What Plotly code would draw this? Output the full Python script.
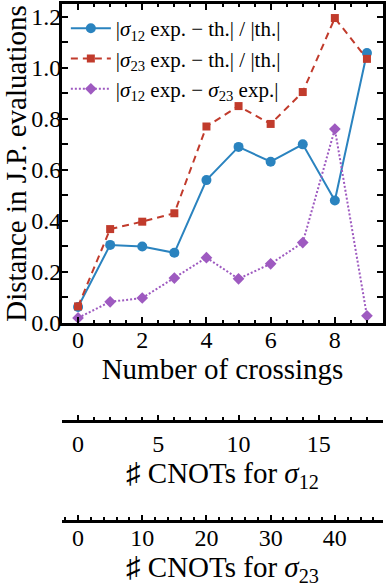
import plotly.graph_objects as go

# data
crossings = [0, 1, 2, 3, 4, 5, 6, 7, 8, 9]
dist_s12 = [0.063, 0.306, 0.300, 0.275, 0.560, 0.690, 0.632, 0.700, 0.480, 1.058]
dist_s23 = [0.065, 0.368, 0.397, 0.430, 0.770, 0.850, 0.780, 0.905, 1.195, 1.035]
dist_s12_s23 = [0.020, 0.083, 0.098, 0.176, 0.256, 0.173, 0.232, 0.315, 0.760, 0.028]

names = [
    "|<i>σ</i><sub>12</sub> exp. − th.| / |th.|",
    "|<i>σ</i><sub>23</sub> exp. − th.| / |th.|",
    "|<i>σ</i><sub>12</sub> exp. − <i>σ</i><sub>23</sub> exp.|",
]

# CNOT counts per crossing for the two extra scales
cnots_per_crossing_12 = 2
cnots_per_crossing_23 = 5
x_range = [-0.5, 9.5]

FONT = "Liberation Serif"
BLUE = "#2A83BF"
RED = "#C13B2C"
PURPLE = "#9E5AC0"

fig = go.Figure()

fig.add_trace(
    go.Scatter(
        x=crossings, y=dist_s12, name=names[0], mode="lines+markers",
        line=dict(color=BLUE, width=2),
        marker=dict(symbol="circle", size=10, color=BLUE),
    )
)
fig.add_trace(
    go.Scatter(
        x=crossings, y=dist_s23, name=names[1], mode="lines+markers",
        line=dict(color=RED, width=2, dash="7px,5px"),
        marker=dict(symbol="square", size=8, color=RED),
    )
)
fig.add_trace(
    go.Scatter(
        x=crossings, y=dist_s12_s23, name=names[2], mode="lines+markers",
        line=dict(color=PURPLE, width=2, dash="2px,2px"),
        marker=dict(symbol="diamond", size=9, color=PURPLE),
    )
)

# empty traces so the extra scales get drawn
fig.add_trace(go.Scatter(x=[], y=[], xaxis="x2", yaxis="y", showlegend=False))
fig.add_trace(go.Scatter(x=[], y=[], xaxis="x3", yaxis="y", showlegend=False))

frame = dict(
    showline=True, linecolor="black", linewidth=3, mirror="allticks",
    ticks="inside", ticklen=6, tickwidth=2, tickcolor="black",
    showgrid=False, zeroline=False,
    tickfont=dict(family=FONT, size=24, color="black"),
)

extra = dict(
    anchor="free", overlaying="x", side="bottom",
    showline=True, linecolor="black", linewidth=3,
    ticks="inside", ticklen=5, tickwidth=2, tickcolor="black",
    showgrid=False, zeroline=False,
    tickfont=dict(family=FONT, size=24, color="black"),
)

fig.update_layout(
    width=387, height=588,
    margin=dict(l=62, r=4, t=4, b=4, autoexpand=False),
    plot_bgcolor="white", paper_bgcolor="white",
    font=dict(family=FONT, size=24, color="black"),
    xaxis=dict(
        range=x_range, dtick=2, tick0=0,
        minor=dict(dtick=0.5, ticks="inside", ticklen=3, tickwidth=1.5, tickcolor="black"),
        title=dict(text="Number of crossings", standoff=5),
        ticklabelstandoff=-7,
        **frame,
    ),
    yaxis=dict(
        domain=[0.45, 1], range=[0, 1.25], dtick=0.2, tick0=0, tickformat=".1f",
        minor=dict(dtick=0.1, ticks="inside", ticklen=3, tickwidth=1.5, tickcolor="black"),
        title=dict(text="Distance in J.P. evaluations", standoff=4),
        ticklabelstandoff=-7,
        **frame,
    ),
    xaxis2=dict(
        position=0.281,
        range=[v * cnots_per_crossing_12 for v in x_range], dtick=5, tick0=0,
        minor=dict(dtick=1, ticks="inside", ticklen=3, tickwidth=1.5, tickcolor="black"),
        title=dict(text="♯ CNOTs for <i>σ</i><sub>12</sub>", standoff=0),
        **extra,
    ),
    xaxis3=dict(
        position=0.1086,
        range=[v * cnots_per_crossing_23 for v in x_range], dtick=10, tick0=0,
        minor=dict(dtick=2, ticks="inside", ticklen=3, tickwidth=1.5, tickcolor="black"),
        title=dict(text="♯ CNOTs for <i>σ</i><sub>23</sub>", standoff=2),
        ticklabelstandoff=-6,
        **extra,
    ),
    legend=dict(
        y=0.993, x=0.012, xanchor="left", yanchor="top",
        bgcolor="rgba(0,0,0,0)", font=dict(family=FONT, size=21),
        tracegroupgap=0, itemwidth=40,
    ),
)

# drop the page's default body margin so the figure sits at the window corner
fig.write_html(
    "out.html",
    config={"displayModeBar": False},
    post_script="document.body.style.margin='0';",
)
